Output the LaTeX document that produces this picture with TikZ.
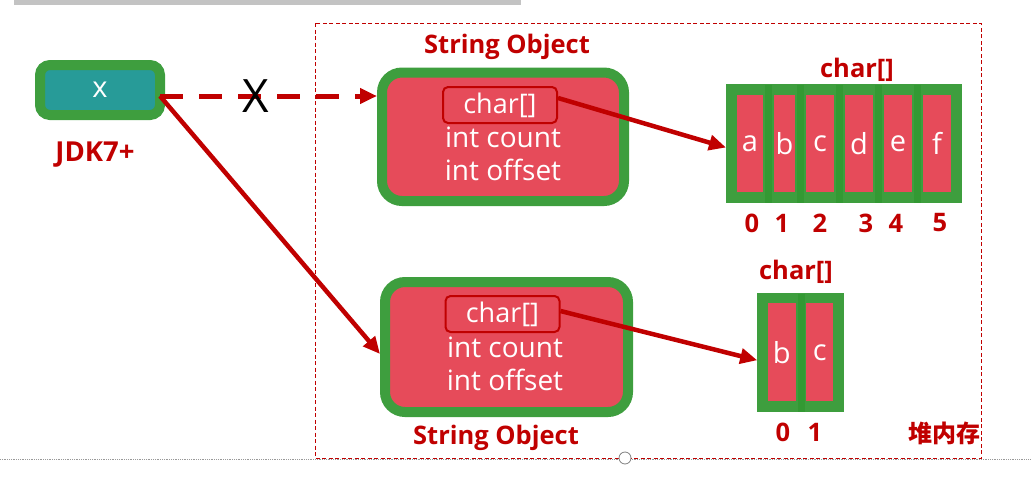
\documentclass[tikz,border=0pt]{standalone}
\usepackage{fontspec}
\setmainfont{Open Sans}
\newfontfamily\cjk{Noto Sans CJK SC}
\usetikzlibrary{arrows.meta,calc}
\definecolor{dred}{HTML}{C00000}
\definecolor{gr}{HTML}{3E9E3E}
\definecolor{grd}{HTML}{339933}
\definecolor{rd}{HTML}{E64B5A}
\definecolor{tealx}{HTML}{279B98}
\definecolor{bar}{HTML}{C3C3C3}
\begin{document}
\begin{tikzpicture}[x=1pt,y=-1pt,
  obj/.style={draw=gr,fill=rd,line width=10pt,rounded corners=20pt,inner sep=0pt},
  cell/.style={draw=gr,fill=rd,line width=11pt,inner sep=0pt,text=white,font=\fontsize{29}{32}\selectfont},
  cellb/.style={draw=gr,fill=rd,line width=10.5pt,inner sep=0pt,text=white,font=\fontsize{29}{32}\selectfont},
  ptrbox/.style={draw=dred,fill=rd,line width=2pt,rounded corners=5pt,minimum width=114pt,minimum height=36pt,inner sep=0pt,text=white,font=\fontsize{27}{30}\selectfont},
  fields/.style={text=white,align=center,inner sep=0pt,font=\fontsize{28}{33}\selectfont},
  lbl/.style={text=dred,inner sep=0pt,font=\fontsize{25.5}{28}\selectfont\bfseries},
  ref/.style={draw=dred,line width=4.5pt,-{Triangle[length=17pt,width=15pt]}},
  divider/.style={draw=grd,line width=7pt}
]
\useasboundingbox (0,0) rectangle (1031,485);
% screenshot remnants
\fill[bar] (14,0) rectangle (521,5);
\draw[gray!80,densely dotted,line width=0.8pt] (0,459) -- (1031,459);
% heap frame
\draw[dred,dashed,line width=0.8pt,dash pattern=on 4pt off 2.5pt] (315,23) rectangle (981,458);
\node[draw=gray,fill=white,circle,minimum size=12pt,inner sep=0pt,line width=0.8pt] (handle) at (625,458) {};

% variable x
\node[draw=gr,fill=tealx,line width=10pt,rounded corners=10pt,minimum width=120pt,minimum height=50pt,inner sep=0pt,text=white,font=\fontsize{29}{30}\selectfont] (xbox) at (100,90) {x};
\node[lbl,font=\fontsize{27.5}{30}\selectfont\bfseries] (jdk) at (95,155) {JDK7+};

% string objects
\node[obj,minimum width=242pt,minimum height=128.5pt] (o1) at (503,136.75) {};
\node[ptrbox] (p1) at (500,105) {char[]};
\node[fields] (f1) at (503,154) {int count\\int offset};
\node[lbl] (t1) at (507,47) {String Object};

\node[obj,minimum width=243pt,minimum height=130pt] (o2) at (506.5,347) {};
\node[ptrbox] (p2) at (502.5,314) {char[]};
\node[fields] (f2) at (505,364) {int count\\int offset};
\node[lbl] (t2) at (496,438) {String Object};

% top char array
\node[cell,minimum width=37pt,minimum height=108pt] (a) at (750,143.5) {a};
\node[cell,minimum width=32pt,minimum height=108pt] (b) at (784.5,143.5) {b};
\node[cell,minimum width=39pt,minimum height=108pt] (c) at (820,143.5) {c};
\node[cell,minimum width=39pt,minimum height=108pt] (d) at (859,143.5) {d};
\node[cell,minimum width=39pt,minimum height=108pt] (e) at (898,143.5) {e};
\node[cell,minimum width=39pt,minimum height=108pt] (f) at (937,143.5) {f};
\foreach \xx in {768.5,800.5,839.5,878.5,917.5}{\draw[divider] (\xx,84.5) -- (\xx,202.5);}
\node[lbl] (arr1) at (857,70) {char[]};
\node[lbl] (i0) at (752,223) {0};
\node[lbl] (i1) at (782,223) {1};
\node[lbl] (i2) at (820,223) {2};
\node[lbl] (i3) at (866,223) {3};
\node[lbl] (i4) at (896,223) {4};
\node[lbl] (i5) at (940,223) {5};

% bottom char array
\node[cellb,minimum width=38.5pt,minimum height=108.5pt] (bb) at (781.75,352.25) {b};
\node[cellb,minimum width=37.5pt,minimum height=108.5pt] (bc) at (819.75,352.25) {c};
\draw[divider] (801,293.5) -- (801,411.5);
\node[lbl] (arr2) at (796,272) {char[]};
\node[lbl] (j0) at (783,432) {0};
\node[lbl] (j1) at (815,432) {1};

\node[lbl,font=\fontsize{24}{28}\selectfont\cjk\bfseries] (heap) at (944,433) {堆内存};

% references
\coordinate (s1) at ($(xbox.east)+(-5,6)$);
\draw[ref,line width=5pt,dash pattern=on 23pt off 16pt] (s1) -- (s1 -| o1.west);
\node[font=\fontsize{46}{50}\selectfont,inner sep=0pt] (cross) at (256,96) {X};
\draw[ref] (s1) -- ($(o2.west)+(0,7)$);
\draw[ref] ($(p1.east)+(0,-7)$) -- ($(a.west)+(0,4)$);
\draw[ref] ($(p2.east)+(0,-3)$) -- ($(bb.west)+(0,8)$);
\end{tikzpicture}
\end{document}
